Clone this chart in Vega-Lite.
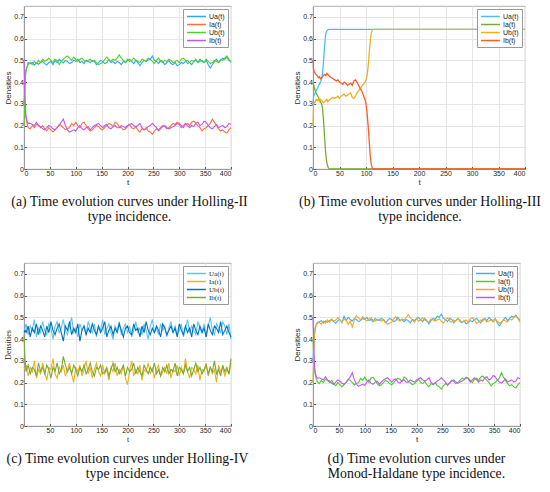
{
  "$schema": "https://vega.github.io/schema/vega-lite/v6.json",
  "padding": {"left": 4, "top": 5, "right": 5, "bottom": 5},
  "datasets": {
    "a": [
      {"t":0,"Ua":0.30,"Ia":0.40,"Ub":0.20,"Ib":0.50},
      {"t":1,"Ua":0.36,"Ia":0.34,"Ub":0.30,"Ib":0.40},
      {"t":2,"Ua":0.41,"Ia":0.29,"Ub":0.38,"Ib":0.32},
      {"t":3,"Ua":0.44,"Ia":0.25,"Ub":0.43,"Ib":0.27},
      {"t":4,"Ua":0.46,"Ia":0.23,"Ub":0.45,"Ib":0.24},
      {"t":6,"Ua":0.47,"Ia":0.21,"Ub":0.47,"Ib":0.22},
      {"t":8,"Ua":0.49,"Ia":0.19,"Ub":0.48,"Ib":0.21},
      {"t":12,"Ua":0.485,"Ia":0.185,"Ub":0.49,"Ib":0.21},
      {"t":16,"Ua":0.49,"Ia":0.20,"Ub":0.48,"Ib":0.205},
      {"t":20,"Ua":0.478,"Ia":0.19,"Ub":0.495,"Ib":0.20},
      {"t":24,"Ua":0.488,"Ia":0.205,"Ub":0.485,"Ib":0.215},
      {"t":28,"Ua":0.482,"Ia":0.20,"Ub":0.50,"Ib":0.20},
      {"t":32,"Ua":0.49,"Ia":0.19,"Ub":0.49,"Ib":0.195},
      {"t":36,"Ua":0.495,"Ia":0.20,"Ub":0.505,"Ib":0.185},
      {"t":40,"Ua":0.485,"Ia":0.185,"Ub":0.495,"Ib":0.18},
      {"t":44,"Ua":0.478,"Ia":0.175,"Ub":0.50,"Ib":0.19},
      {"t":48,"Ua":0.49,"Ia":0.19,"Ub":0.51,"Ib":0.20},
      {"t":52,"Ua":0.495,"Ia":0.18,"Ub":0.50,"Ib":0.195},
      {"t":56,"Ua":0.48,"Ia":0.17,"Ub":0.49,"Ib":0.185},
      {"t":60,"Ua":0.50,"Ia":0.18,"Ub":0.505,"Ib":0.18},
      {"t":64,"Ua":0.49,"Ia":0.19,"Ub":0.50,"Ib":0.19},
      {"t":68,"Ua":0.505,"Ia":0.205,"Ub":0.48,"Ib":0.20},
      {"t":72,"Ua":0.495,"Ia":0.20,"Ub":0.495,"Ib":0.215},
      {"t":76,"Ua":0.488,"Ia":0.19,"Ub":0.505,"Ib":0.23},
      {"t":80,"Ua":0.50,"Ia":0.18,"Ub":0.515,"Ib":0.20},
      {"t":84,"Ua":0.495,"Ia":0.185,"Ub":0.52,"Ib":0.18},
      {"t":88,"Ua":0.485,"Ia":0.19,"Ub":0.51,"Ib":0.17},
      {"t":92,"Ua":0.49,"Ia":0.21,"Ub":0.50,"Ib":0.175},
      {"t":96,"Ua":0.50,"Ia":0.20,"Ub":0.515,"Ib":0.18},
      {"t":100,"Ua":0.495,"Ia":0.215,"Ub":0.505,"Ib":0.175},
      {"t":104,"Ua":0.505,"Ia":0.20,"Ub":0.495,"Ib":0.19},
      {"t":108,"Ua":0.49,"Ia":0.19,"Ub":0.505,"Ib":0.20},
      {"t":112,"Ua":0.495,"Ia":0.21,"Ub":0.51,"Ib":0.185},
      {"t":116,"Ua":0.485,"Ia":0.215,"Ub":0.50,"Ib":0.18},
      {"t":120,"Ua":0.50,"Ia":0.20,"Ub":0.495,"Ib":0.19},
      {"t":124,"Ua":0.495,"Ia":0.185,"Ub":0.50,"Ib":0.195},
      {"t":128,"Ua":0.49,"Ia":0.175,"Ub":0.505,"Ib":0.18},
      {"t":132,"Ua":0.50,"Ia":0.18,"Ub":0.495,"Ib":0.19},
      {"t":136,"Ua":0.495,"Ia":0.19,"Ub":0.50,"Ib":0.20},
      {"t":140,"Ua":0.48,"Ia":0.20,"Ub":0.49,"Ib":0.205},
      {"t":144,"Ua":0.49,"Ia":0.195,"Ub":0.48,"Ib":0.21},
      {"t":148,"Ua":0.50,"Ia":0.185,"Ub":0.485,"Ib":0.20},
      {"t":152,"Ua":0.495,"Ia":0.18,"Ub":0.49,"Ib":0.19},
      {"t":156,"Ua":0.485,"Ia":0.19,"Ub":0.505,"Ib":0.20},
      {"t":160,"Ua":0.49,"Ia":0.20,"Ub":0.515,"Ib":0.205},
      {"t":164,"Ua":0.505,"Ia":0.21,"Ub":0.50,"Ib":0.19},
      {"t":168,"Ua":0.49,"Ia":0.205,"Ub":0.495,"Ib":0.185},
      {"t":172,"Ua":0.495,"Ia":0.195,"Ub":0.505,"Ib":0.195},
      {"t":176,"Ua":0.485,"Ia":0.215,"Ub":0.50,"Ib":0.20},
      {"t":180,"Ua":0.495,"Ia":0.21,"Ub":0.51,"Ib":0.19},
      {"t":184,"Ua":0.49,"Ia":0.195,"Ub":0.525,"Ib":0.19},
      {"t":188,"Ua":0.48,"Ia":0.19,"Ub":0.51,"Ib":0.20},
      {"t":192,"Ua":0.495,"Ia":0.18,"Ub":0.50,"Ib":0.195},
      {"t":196,"Ua":0.49,"Ia":0.185,"Ub":0.49,"Ib":0.19},
      {"t":200,"Ua":0.50,"Ia":0.195,"Ub":0.505,"Ib":0.20},
      {"t":204,"Ua":0.505,"Ia":0.205,"Ub":0.495,"Ib":0.205},
      {"t":208,"Ua":0.495,"Ia":0.19,"Ub":0.50,"Ib":0.21},
      {"t":212,"Ua":0.485,"Ia":0.185,"Ub":0.51,"Ib":0.20},
      {"t":216,"Ua":0.50,"Ia":0.195,"Ub":0.50,"Ib":0.195},
      {"t":220,"Ua":0.49,"Ia":0.18,"Ub":0.495,"Ib":0.20},
      {"t":224,"Ua":0.475,"Ia":0.17,"Ub":0.49,"Ib":0.21},
      {"t":228,"Ua":0.49,"Ia":0.185,"Ub":0.505,"Ib":0.19},
      {"t":232,"Ua":0.50,"Ia":0.18,"Ub":0.50,"Ib":0.18},
      {"t":236,"Ua":0.495,"Ia":0.19,"Ub":0.495,"Ib":0.185},
      {"t":240,"Ua":0.51,"Ia":0.175,"Ub":0.50,"Ib":0.195},
      {"t":244,"Ua":0.505,"Ia":0.17,"Ub":0.505,"Ib":0.20},
      {"t":248,"Ua":0.52,"Ia":0.16,"Ub":0.495,"Ib":0.21},
      {"t":252,"Ua":0.50,"Ia":0.175,"Ub":0.485,"Ib":0.20},
      {"t":256,"Ua":0.495,"Ia":0.185,"Ub":0.50,"Ib":0.19},
      {"t":260,"Ua":0.485,"Ia":0.18,"Ub":0.51,"Ib":0.175},
      {"t":264,"Ua":0.50,"Ia":0.19,"Ub":0.495,"Ib":0.185},
      {"t":268,"Ua":0.495,"Ia":0.20,"Ub":0.49,"Ib":0.195},
      {"t":272,"Ua":0.48,"Ia":0.195,"Ub":0.50,"Ib":0.20},
      {"t":276,"Ua":0.49,"Ia":0.185,"Ub":0.495,"Ib":0.19},
      {"t":280,"Ua":0.50,"Ia":0.19,"Ub":0.505,"Ib":0.185},
      {"t":284,"Ua":0.485,"Ia":0.20,"Ub":0.50,"Ib":0.19},
      {"t":288,"Ua":0.48,"Ia":0.21,"Ub":0.49,"Ib":0.195},
      {"t":292,"Ua":0.49,"Ia":0.205,"Ub":0.495,"Ib":0.20},
      {"t":296,"Ua":0.475,"Ia":0.215,"Ub":0.50,"Ib":0.21},
      {"t":300,"Ua":0.48,"Ia":0.21,"Ub":0.49,"Ib":0.205},
      {"t":304,"Ua":0.49,"Ia":0.20,"Ub":0.505,"Ib":0.19},
      {"t":308,"Ua":0.485,"Ia":0.19,"Ub":0.51,"Ib":0.20},
      {"t":312,"Ua":0.495,"Ia":0.205,"Ub":0.50,"Ib":0.21},
      {"t":316,"Ua":0.50,"Ia":0.21,"Ub":0.485,"Ib":0.20},
      {"t":320,"Ua":0.49,"Ia":0.20,"Ub":0.49,"Ib":0.19},
      {"t":324,"Ua":0.48,"Ia":0.215,"Ub":0.50,"Ib":0.20},
      {"t":328,"Ua":0.495,"Ia":0.22,"Ub":0.495,"Ib":0.195},
      {"t":332,"Ua":0.50,"Ia":0.21,"Ub":0.505,"Ib":0.21},
      {"t":336,"Ua":0.49,"Ia":0.20,"Ub":0.49,"Ib":0.215},
      {"t":340,"Ua":0.505,"Ia":0.19,"Ub":0.495,"Ib":0.20},
      {"t":344,"Ua":0.495,"Ia":0.175,"Ub":0.50,"Ib":0.205},
      {"t":348,"Ua":0.49,"Ia":0.185,"Ub":0.49,"Ib":0.22},
      {"t":352,"Ua":0.50,"Ia":0.19,"Ub":0.505,"Ib":0.215},
      {"t":356,"Ua":0.48,"Ia":0.20,"Ub":0.495,"Ib":0.20},
      {"t":360,"Ua":0.465,"Ia":0.21,"Ub":0.485,"Ib":0.19},
      {"t":364,"Ua":0.48,"Ia":0.23,"Ub":0.49,"Ib":0.185},
      {"t":368,"Ua":0.495,"Ia":0.215,"Ub":0.50,"Ib":0.195},
      {"t":372,"Ua":0.505,"Ia":0.20,"Ub":0.495,"Ib":0.205},
      {"t":376,"Ua":0.49,"Ia":0.185,"Ub":0.49,"Ib":0.19},
      {"t":380,"Ua":0.50,"Ia":0.175,"Ub":0.505,"Ib":0.195},
      {"t":384,"Ua":0.51,"Ia":0.18,"Ub":0.50,"Ib":0.20},
      {"t":388,"Ua":0.505,"Ia":0.17,"Ub":0.51,"Ib":0.19},
      {"t":392,"Ua":0.515,"Ia":0.165,"Ub":0.52,"Ib":0.195},
      {"t":396,"Ua":0.50,"Ia":0.18,"Ub":0.505,"Ib":0.21},
      {"t":400,"Ua":0.495,"Ia":0.19,"Ub":0.49,"Ib":0.205}
    ],
    "b": [
      {"t":0,"Ua":0.30,"Ia":0.40,"Ub":0.20,"Ib":0.50},
      {"t":1,"Ua":0.33,"Ia":0.39,"Ub":0.29,"Ib":0.46},
      {"t":2,"Ua":0.34,"Ia":0.38,"Ub":0.30,"Ib":0.45},
      {"t":4,"Ua":0.35,"Ia":0.36,"Ub":0.31,"Ib":0.44},
      {"t":6,"Ua":0.36,"Ia":0.35,"Ub":0.32,"Ib":0.435},
      {"t":8,"Ua":0.37,"Ia":0.34,"Ub":0.315,"Ib":0.43},
      {"t":10,"Ua":0.38,"Ia":0.33,"Ub":0.32,"Ib":0.42},
      {"t":12,"Ua":0.39,"Ia":0.32,"Ub":0.31,"Ib":0.425},
      {"t":14,"Ua":0.40,"Ia":0.31,"Ub":0.32,"Ib":0.415},
      {"t":16,"Ua":0.41,"Ia":0.30,"Ub":0.315,"Ib":0.42},
      {"t":18,"Ua":0.44,"Ia":0.28,"Ub":0.31,"Ib":0.425},
      {"t":20,"Ua":0.50,"Ia":0.22,"Ub":0.305,"Ib":0.43},
      {"t":22,"Ua":0.57,"Ia":0.14,"Ub":0.31,"Ib":0.435},
      {"t":24,"Ua":0.62,"Ia":0.07,"Ub":0.315,"Ib":0.43},
      {"t":26,"Ua":0.635,"Ia":0.03,"Ub":0.32,"Ib":0.44},
      {"t":28,"Ua":0.64,"Ia":0.01,"Ub":0.31,"Ib":0.435},
      {"t":30,"Ua":0.642,"Ia":0.002,"Ub":0.315,"Ib":0.43},
      {"t":32,"Ua":0.642,"Ia":0,"Ub":0.32,"Ib":0.425},
      {"t":35,"Ua":0.642,"Ia":0,"Ub":0.325,"Ib":0.42},
      {"t":38,"Ua":0.642,"Ia":0,"Ub":0.33,"Ib":0.415},
      {"t":41,"Ua":0.642,"Ia":0,"Ub":0.325,"Ib":0.41},
      {"t":44,"Ua":0.642,"Ia":0,"Ub":0.33,"Ib":0.405},
      {"t":47,"Ua":0.642,"Ia":0,"Ub":0.335,"Ib":0.41},
      {"t":50,"Ua":0.642,"Ia":0,"Ub":0.325,"Ib":0.40},
      {"t":53,"Ua":0.642,"Ia":0,"Ub":0.335,"Ib":0.395},
      {"t":56,"Ua":0.642,"Ia":0,"Ub":0.34,"Ib":0.39},
      {"t":59,"Ua":0.642,"Ia":0,"Ub":0.345,"Ib":0.40},
      {"t":62,"Ua":0.642,"Ia":0,"Ub":0.335,"Ib":0.395},
      {"t":65,"Ua":0.642,"Ia":0,"Ub":0.34,"Ib":0.385},
      {"t":68,"Ua":0.642,"Ia":0,"Ub":0.345,"Ib":0.39},
      {"t":71,"Ua":0.642,"Ia":0,"Ub":0.35,"Ib":0.395},
      {"t":74,"Ua":0.642,"Ia":0,"Ub":0.33,"Ib":0.385},
      {"t":77,"Ua":0.642,"Ia":0,"Ub":0.325,"Ib":0.405},
      {"t":80,"Ua":0.642,"Ia":0,"Ub":0.335,"Ib":0.41},
      {"t":83,"Ua":0.642,"Ia":0,"Ub":0.35,"Ib":0.40},
      {"t":86,"Ua":0.642,"Ia":0,"Ub":0.36,"Ib":0.385},
      {"t":89,"Ua":0.642,"Ia":0,"Ub":0.37,"Ib":0.37},
      {"t":92,"Ua":0.642,"Ia":0,"Ub":0.38,"Ib":0.36},
      {"t":95,"Ua":0.642,"Ia":0,"Ub":0.39,"Ib":0.34},
      {"t":98,"Ua":0.642,"Ia":0,"Ub":0.40,"Ib":0.32},
      {"t":100,"Ua":0.642,"Ia":0,"Ub":0.41,"Ib":0.30},
      {"t":102,"Ua":0.642,"Ia":0,"Ub":0.43,"Ib":0.26},
      {"t":104,"Ua":0.642,"Ia":0,"Ub":0.47,"Ib":0.20},
      {"t":106,"Ua":0.642,"Ia":0,"Ub":0.53,"Ib":0.13},
      {"t":108,"Ua":0.642,"Ia":0,"Ub":0.59,"Ib":0.06},
      {"t":110,"Ua":0.642,"Ia":0,"Ub":0.625,"Ib":0.02},
      {"t":112,"Ua":0.642,"Ia":0,"Ub":0.64,"Ib":0.003},
      {"t":114,"Ua":0.642,"Ia":0,"Ub":0.642,"Ib":0},
      {"t":200,"Ua":0.642,"Ia":0,"Ub":0.642,"Ib":0},
      {"t":300,"Ua":0.642,"Ia":0,"Ub":0.642,"Ib":0},
      {"t":400,"Ua":0.642,"Ia":0,"Ub":0.642,"Ib":0}
    ],
    "c": [
      {"t":0,"Ua":0.44,"Ia":0.27,"Ub":0.43,"Ib":0.42},
      {"t":2,"Ua":0.45,"Ia":0.26,"Ub":0.44,"Ib":0.31},
      {"t":4,"Ua":0.47,"Ia":0.28,"Ub":0.43,"Ib":0.25},
      {"t":8,"Ua":0.42,"Ia":0.23,"Ub":0.46,"Ib":0.28},
      {"t":12,"Ua":0.46,"Ia":0.27,"Ub":0.41,"Ib":0.24},
      {"t":16,"Ua":0.44,"Ia":0.25,"Ub":0.45,"Ib":0.27},
      {"t":20,"Ua":0.49,"Ia":0.30,"Ub":0.43,"Ib":0.26},
      {"t":24,"Ua":0.41,"Ia":0.22,"Ub":0.47,"Ib":0.23},
      {"t":28,"Ua":0.45,"Ia":0.26,"Ub":0.42,"Ib":0.29},
      {"t":32,"Ua":0.43,"Ia":0.24,"Ub":0.46,"Ib":0.25},
      {"t":36,"Ua":0.48,"Ia":0.29,"Ub":0.44,"Ib":0.27},
      {"t":40,"Ua":0.44,"Ia":0.25,"Ub":0.41,"Ib":0.24},
      {"t":44,"Ua":0.42,"Ia":0.21,"Ub":0.46,"Ib":0.28},
      {"t":48,"Ua":0.47,"Ia":0.27,"Ub":0.43,"Ib":0.26},
      {"t":52,"Ua":0.45,"Ia":0.26,"Ub":0.48,"Ib":0.22},
      {"t":56,"Ua":0.40,"Ia":0.31,"Ub":0.44,"Ib":0.27},
      {"t":60,"Ua":0.46,"Ia":0.24,"Ub":0.42,"Ib":0.25},
      {"t":64,"Ua":0.48,"Ia":0.22,"Ub":0.45,"Ib":0.29},
      {"t":68,"Ua":0.43,"Ia":0.27,"Ub":0.47,"Ib":0.24},
      {"t":72,"Ua":0.45,"Ia":0.25,"Ub":0.43,"Ib":0.26},
      {"t":76,"Ua":0.49,"Ia":0.28,"Ub":0.39,"Ib":0.32},
      {"t":80,"Ua":0.44,"Ia":0.23,"Ub":0.46,"Ib":0.28},
      {"t":84,"Ua":0.42,"Ia":0.26,"Ub":0.44,"Ib":0.25},
      {"t":88,"Ua":0.46,"Ia":0.29,"Ub":0.48,"Ib":0.27},
      {"t":92,"Ua":0.50,"Ia":0.24,"Ub":0.42,"Ib":0.24},
      {"t":96,"Ua":0.43,"Ia":0.20,"Ub":0.45,"Ib":0.28},
      {"t":100,"Ua":0.45,"Ia":0.27,"Ub":0.43,"Ib":0.26},
      {"t":104,"Ua":0.41,"Ia":0.25,"Ub":0.47,"Ib":0.23},
      {"t":108,"Ua":0.47,"Ia":0.28,"Ub":0.39,"Ib":0.27},
      {"t":112,"Ua":0.44,"Ia":0.23,"Ub":0.44,"Ib":0.25},
      {"t":116,"Ua":0.46,"Ia":0.26,"Ub":0.46,"Ib":0.28},
      {"t":120,"Ua":0.42,"Ia":0.30,"Ub":0.42,"Ib":0.24},
      {"t":124,"Ua":0.48,"Ia":0.24,"Ub":0.45,"Ib":0.26},
      {"t":128,"Ua":0.45,"Ia":0.27,"Ub":0.43,"Ib":0.29},
      {"t":132,"Ua":0.43,"Ia":0.22,"Ub":0.47,"Ib":0.25},
      {"t":136,"Ua":0.47,"Ia":0.26,"Ub":0.44,"Ib":0.23},
      {"t":140,"Ua":0.41,"Ia":0.29,"Ub":0.42,"Ib":0.27},
      {"t":144,"Ua":0.46,"Ia":0.25,"Ub":0.46,"Ib":0.26},
      {"t":148,"Ua":0.44,"Ia":0.23,"Ub":0.43,"Ib":0.28},
      {"t":152,"Ua":0.49,"Ia":0.28,"Ub":0.45,"Ib":0.24},
      {"t":156,"Ua":0.42,"Ia":0.24,"Ub":0.48,"Ib":0.25},
      {"t":160,"Ua":0.45,"Ia":0.26,"Ub":0.41,"Ib":0.27},
      {"t":164,"Ua":0.47,"Ia":0.21,"Ub":0.44,"Ib":0.23},
      {"t":168,"Ua":0.43,"Ia":0.27,"Ub":0.46,"Ib":0.26},
      {"t":172,"Ua":0.40,"Ia":0.25,"Ub":0.42,"Ib":0.29},
      {"t":176,"Ua":0.46,"Ia":0.29,"Ub":0.45,"Ib":0.25},
      {"t":180,"Ua":0.44,"Ia":0.23,"Ub":0.43,"Ib":0.27},
      {"t":184,"Ua":0.48,"Ia":0.26,"Ub":0.47,"Ib":0.24},
      {"t":188,"Ua":0.42,"Ia":0.24,"Ub":0.44,"Ib":0.26},
      {"t":192,"Ua":0.45,"Ia":0.28,"Ub":0.41,"Ib":0.28},
      {"t":196,"Ua":0.47,"Ia":0.22,"Ub":0.45,"Ib":0.23},
      {"t":200,"Ua":0.43,"Ia":0.19,"Ub":0.46,"Ib":0.27},
      {"t":204,"Ua":0.46,"Ia":0.25,"Ub":0.43,"Ib":0.25},
      {"t":208,"Ua":0.41,"Ia":0.30,"Ub":0.42,"Ib":0.26},
      {"t":212,"Ua":0.44,"Ia":0.23,"Ub":0.47,"Ib":0.29},
      {"t":216,"Ua":0.48,"Ia":0.26,"Ub":0.44,"Ib":0.24},
      {"t":220,"Ua":0.43,"Ia":0.24,"Ub":0.45,"Ib":0.27},
      {"t":224,"Ua":0.45,"Ia":0.28,"Ub":0.41,"Ib":0.25},
      {"t":228,"Ua":0.42,"Ia":0.21,"Ub":0.46,"Ib":0.23},
      {"t":232,"Ua":0.47,"Ia":0.26,"Ub":0.43,"Ib":0.28},
      {"t":236,"Ua":0.44,"Ia":0.25,"Ub":0.48,"Ib":0.26},
      {"t":240,"Ua":0.40,"Ia":0.29,"Ub":0.44,"Ib":0.24},
      {"t":244,"Ua":0.46,"Ia":0.24,"Ub":0.42,"Ib":0.27},
      {"t":248,"Ua":0.49,"Ia":0.27,"Ub":0.45,"Ib":0.25},
      {"t":252,"Ua":0.43,"Ia":0.22,"Ub":0.43,"Ib":0.29},
      {"t":256,"Ua":0.45,"Ia":0.26,"Ub":0.46,"Ib":0.24},
      {"t":260,"Ua":0.42,"Ia":0.28,"Ub":0.44,"Ib":0.26},
      {"t":264,"Ua":0.47,"Ia":0.23,"Ub":0.41,"Ib":0.23},
      {"t":268,"Ua":0.44,"Ia":0.25,"Ub":0.47,"Ib":0.27},
      {"t":272,"Ua":0.46,"Ia":0.27,"Ub":0.45,"Ib":0.25},
      {"t":276,"Ua":0.41,"Ia":0.24,"Ub":0.42,"Ib":0.28},
      {"t":280,"Ua":0.45,"Ia":0.29,"Ub":0.44,"Ib":0.24},
      {"t":284,"Ua":0.48,"Ia":0.22,"Ub":0.46,"Ib":0.26},
      {"t":288,"Ua":0.43,"Ia":0.26,"Ub":0.43,"Ib":0.25},
      {"t":292,"Ua":0.46,"Ia":0.25,"Ub":0.45,"Ib":0.29},
      {"t":296,"Ua":0.42,"Ia":0.28,"Ub":0.41,"Ib":0.23},
      {"t":300,"Ua":0.44,"Ia":0.23,"Ub":0.47,"Ib":0.27},
      {"t":304,"Ua":0.47,"Ia":0.27,"Ub":0.44,"Ib":0.26},
      {"t":308,"Ua":0.41,"Ia":0.24,"Ub":0.42,"Ib":0.24},
      {"t":312,"Ua":0.45,"Ia":0.31,"Ub":0.46,"Ib":0.28},
      {"t":316,"Ua":0.49,"Ia":0.25,"Ub":0.43,"Ib":0.25},
      {"t":320,"Ua":0.43,"Ia":0.22,"Ub":0.45,"Ib":0.27},
      {"t":324,"Ua":0.46,"Ia":0.27,"Ub":0.41,"Ib":0.23},
      {"t":328,"Ua":0.44,"Ia":0.26,"Ub":0.47,"Ib":0.26},
      {"t":332,"Ua":0.42,"Ia":0.24,"Ub":0.44,"Ib":0.29},
      {"t":336,"Ua":0.48,"Ia":0.28,"Ub":0.42,"Ib":0.25},
      {"t":340,"Ua":0.45,"Ia":0.21,"Ub":0.46,"Ib":0.27},
      {"t":344,"Ua":0.43,"Ia":0.26,"Ub":0.43,"Ib":0.24},
      {"t":348,"Ua":0.47,"Ia":0.25,"Ub":0.45,"Ib":0.26},
      {"t":352,"Ua":0.41,"Ia":0.29,"Ub":0.41,"Ib":0.28},
      {"t":356,"Ua":0.46,"Ia":0.23,"Ub":0.47,"Ib":0.24},
      {"t":360,"Ua":0.50,"Ia":0.27,"Ub":0.44,"Ib":0.27},
      {"t":364,"Ua":0.44,"Ia":0.24,"Ub":0.42,"Ib":0.25},
      {"t":368,"Ua":0.42,"Ia":0.26,"Ub":0.46,"Ib":0.30},
      {"t":372,"Ua":0.47,"Ia":0.20,"Ub":0.45,"Ib":0.24},
      {"t":376,"Ua":0.45,"Ia":0.28,"Ub":0.43,"Ib":0.26},
      {"t":380,"Ua":0.43,"Ia":0.25,"Ub":0.48,"Ib":0.23},
      {"t":384,"Ua":0.48,"Ia":0.27,"Ub":0.42,"Ib":0.28},
      {"t":388,"Ua":0.46,"Ia":0.23,"Ub":0.44,"Ib":0.25},
      {"t":392,"Ua":0.42,"Ia":0.26,"Ub":0.46,"Ib":0.27},
      {"t":396,"Ua":0.47,"Ia":0.24,"Ub":0.43,"Ib":0.24},
      {"t":400,"Ua":0.40,"Ia":0.29,"Ub":0.41,"Ib":0.31}
    ],
    "d": [
      {"t":0,"Ua":0.30,"Ia":0.40,"Ub":0.20,"Ib":0.50},
      {"t":1,"Ua":0.35,"Ia":0.34,"Ub":0.30,"Ib":0.41},
      {"t":2,"Ua":0.40,"Ia":0.29,"Ub":0.38,"Ib":0.33},
      {"t":3,"Ua":0.43,"Ia":0.26,"Ub":0.42,"Ib":0.28},
      {"t":4,"Ua":0.45,"Ia":0.24,"Ub":0.44,"Ib":0.25},
      {"t":6,"Ua":0.465,"Ia":0.22,"Ub":0.46,"Ib":0.23},
      {"t":8,"Ua":0.475,"Ia":0.205,"Ub":0.47,"Ib":0.22},
      {"t":12,"Ua":0.48,"Ia":0.195,"Ub":0.478,"Ib":0.222},
      {"t":16,"Ua":0.485,"Ia":0.21,"Ub":0.468,"Ib":0.217},
      {"t":20,"Ua":0.473,"Ia":0.20,"Ub":0.483,"Ib":0.212},
      {"t":24,"Ua":0.483,"Ia":0.215,"Ub":0.473,"Ib":0.227},
      {"t":28,"Ua":0.477,"Ia":0.21,"Ub":0.488,"Ib":0.212},
      {"t":32,"Ua":0.485,"Ia":0.20,"Ub":0.478,"Ib":0.207},
      {"t":36,"Ua":0.49,"Ia":0.21,"Ub":0.493,"Ib":0.197},
      {"t":40,"Ua":0.48,"Ia":0.195,"Ub":0.483,"Ib":0.192},
      {"t":44,"Ua":0.473,"Ia":0.185,"Ub":0.488,"Ib":0.202},
      {"t":48,"Ua":0.485,"Ia":0.20,"Ub":0.498,"Ib":0.212},
      {"t":52,"Ua":0.49,"Ia":0.19,"Ub":0.488,"Ib":0.207},
      {"t":56,"Ua":0.475,"Ia":0.18,"Ub":0.478,"Ib":0.197},
      {"t":60,"Ua":0.505,"Ia":0.19,"Ub":0.493,"Ib":0.192},
      {"t":64,"Ua":0.485,"Ia":0.20,"Ub":0.488,"Ib":0.202},
      {"t":68,"Ua":0.50,"Ia":0.215,"Ub":0.468,"Ib":0.212},
      {"t":72,"Ua":0.49,"Ia":0.21,"Ub":0.483,"Ib":0.227},
      {"t":76,"Ua":0.483,"Ia":0.20,"Ub":0.455,"Ib":0.245},
      {"t":80,"Ua":0.495,"Ia":0.19,"Ub":0.49,"Ib":0.212},
      {"t":84,"Ua":0.49,"Ia":0.195,"Ub":0.508,"Ib":0.192},
      {"t":88,"Ua":0.48,"Ia":0.20,"Ub":0.498,"Ib":0.182},
      {"t":92,"Ua":0.485,"Ia":0.22,"Ub":0.488,"Ib":0.187},
      {"t":96,"Ua":0.495,"Ia":0.21,"Ub":0.503,"Ib":0.192},
      {"t":100,"Ua":0.49,"Ia":0.225,"Ub":0.493,"Ib":0.187},
      {"t":104,"Ua":0.50,"Ia":0.21,"Ub":0.483,"Ib":0.202},
      {"t":108,"Ua":0.485,"Ia":0.20,"Ub":0.493,"Ib":0.212},
      {"t":112,"Ua":0.49,"Ia":0.22,"Ub":0.498,"Ib":0.197},
      {"t":116,"Ua":0.48,"Ia":0.225,"Ub":0.488,"Ib":0.192},
      {"t":120,"Ua":0.495,"Ia":0.21,"Ub":0.483,"Ib":0.202},
      {"t":124,"Ua":0.49,"Ia":0.195,"Ub":0.488,"Ib":0.207},
      {"t":128,"Ua":0.485,"Ia":0.185,"Ub":0.493,"Ib":0.192},
      {"t":132,"Ua":0.495,"Ia":0.19,"Ub":0.483,"Ib":0.202},
      {"t":136,"Ua":0.49,"Ia":0.20,"Ub":0.488,"Ib":0.212},
      {"t":140,"Ua":0.475,"Ia":0.21,"Ub":0.478,"Ib":0.217},
      {"t":144,"Ua":0.485,"Ia":0.205,"Ub":0.468,"Ib":0.222},
      {"t":148,"Ua":0.495,"Ia":0.195,"Ub":0.473,"Ib":0.212},
      {"t":152,"Ua":0.49,"Ia":0.19,"Ub":0.478,"Ib":0.202},
      {"t":156,"Ua":0.48,"Ia":0.20,"Ub":0.493,"Ib":0.212},
      {"t":160,"Ua":0.485,"Ia":0.21,"Ub":0.503,"Ib":0.217},
      {"t":164,"Ua":0.50,"Ia":0.22,"Ub":0.488,"Ib":0.202},
      {"t":168,"Ua":0.485,"Ia":0.215,"Ub":0.483,"Ib":0.197},
      {"t":172,"Ua":0.49,"Ia":0.205,"Ub":0.493,"Ib":0.207},
      {"t":176,"Ua":0.48,"Ia":0.225,"Ub":0.488,"Ib":0.212},
      {"t":180,"Ua":0.49,"Ia":0.22,"Ub":0.498,"Ib":0.202},
      {"t":184,"Ua":0.485,"Ia":0.205,"Ub":0.513,"Ib":0.202},
      {"t":188,"Ua":0.475,"Ia":0.20,"Ub":0.498,"Ib":0.212},
      {"t":192,"Ua":0.49,"Ia":0.19,"Ub":0.488,"Ib":0.207},
      {"t":196,"Ua":0.485,"Ia":0.195,"Ub":0.478,"Ib":0.202},
      {"t":200,"Ua":0.495,"Ia":0.205,"Ub":0.493,"Ib":0.212},
      {"t":204,"Ua":0.50,"Ia":0.215,"Ub":0.483,"Ib":0.217},
      {"t":208,"Ua":0.49,"Ia":0.20,"Ub":0.488,"Ib":0.222},
      {"t":212,"Ua":0.48,"Ia":0.195,"Ub":0.498,"Ib":0.212},
      {"t":216,"Ua":0.495,"Ia":0.205,"Ub":0.488,"Ib":0.207},
      {"t":220,"Ua":0.485,"Ia":0.19,"Ub":0.483,"Ib":0.212},
      {"t":224,"Ua":0.47,"Ia":0.18,"Ub":0.478,"Ib":0.222},
      {"t":228,"Ua":0.485,"Ia":0.195,"Ub":0.493,"Ib":0.202},
      {"t":232,"Ua":0.495,"Ia":0.19,"Ub":0.488,"Ib":0.192},
      {"t":236,"Ua":0.49,"Ia":0.20,"Ub":0.483,"Ib":0.197},
      {"t":240,"Ua":0.505,"Ia":0.185,"Ub":0.488,"Ib":0.207},
      {"t":244,"Ua":0.50,"Ia":0.18,"Ub":0.493,"Ib":0.212},
      {"t":248,"Ua":0.515,"Ia":0.17,"Ub":0.483,"Ib":0.222},
      {"t":252,"Ua":0.495,"Ia":0.185,"Ub":0.473,"Ib":0.212},
      {"t":256,"Ua":0.49,"Ia":0.195,"Ub":0.488,"Ib":0.202},
      {"t":260,"Ua":0.48,"Ia":0.19,"Ub":0.498,"Ib":0.187},
      {"t":264,"Ua":0.495,"Ia":0.20,"Ub":0.483,"Ib":0.197},
      {"t":268,"Ua":0.49,"Ia":0.21,"Ub":0.478,"Ib":0.207},
      {"t":272,"Ua":0.475,"Ia":0.205,"Ub":0.488,"Ib":0.212},
      {"t":276,"Ua":0.485,"Ia":0.195,"Ub":0.483,"Ib":0.202},
      {"t":280,"Ua":0.495,"Ia":0.20,"Ub":0.493,"Ib":0.197},
      {"t":284,"Ua":0.48,"Ia":0.21,"Ub":0.488,"Ib":0.202},
      {"t":288,"Ua":0.475,"Ia":0.22,"Ub":0.478,"Ib":0.207},
      {"t":292,"Ua":0.485,"Ia":0.215,"Ub":0.483,"Ib":0.212},
      {"t":296,"Ua":0.47,"Ia":0.225,"Ub":0.488,"Ib":0.222},
      {"t":300,"Ua":0.475,"Ia":0.22,"Ub":0.478,"Ib":0.217},
      {"t":304,"Ua":0.485,"Ia":0.21,"Ub":0.493,"Ib":0.202},
      {"t":308,"Ua":0.48,"Ia":0.20,"Ub":0.498,"Ib":0.212},
      {"t":312,"Ua":0.49,"Ia":0.215,"Ub":0.488,"Ib":0.222},
      {"t":316,"Ua":0.495,"Ia":0.22,"Ub":0.473,"Ib":0.212},
      {"t":320,"Ua":0.485,"Ia":0.21,"Ub":0.478,"Ib":0.202},
      {"t":324,"Ua":0.475,"Ia":0.225,"Ub":0.488,"Ib":0.212},
      {"t":328,"Ua":0.49,"Ia":0.23,"Ub":0.483,"Ib":0.207},
      {"t":332,"Ua":0.495,"Ia":0.22,"Ub":0.493,"Ib":0.222},
      {"t":336,"Ua":0.485,"Ia":0.21,"Ub":0.478,"Ib":0.227},
      {"t":340,"Ua":0.50,"Ia":0.20,"Ub":0.483,"Ib":0.212},
      {"t":344,"Ua":0.49,"Ia":0.185,"Ub":0.488,"Ib":0.217},
      {"t":348,"Ua":0.485,"Ia":0.195,"Ub":0.478,"Ib":0.232},
      {"t":352,"Ua":0.495,"Ia":0.20,"Ub":0.493,"Ib":0.227},
      {"t":356,"Ua":0.475,"Ia":0.21,"Ub":0.483,"Ib":0.212},
      {"t":360,"Ua":0.46,"Ia":0.22,"Ub":0.473,"Ib":0.202},
      {"t":364,"Ua":0.475,"Ia":0.245,"Ub":0.478,"Ib":0.197},
      {"t":368,"Ua":0.49,"Ia":0.225,"Ub":0.488,"Ib":0.207},
      {"t":372,"Ua":0.50,"Ia":0.21,"Ub":0.483,"Ib":0.217},
      {"t":376,"Ua":0.485,"Ia":0.195,"Ub":0.478,"Ib":0.202},
      {"t":380,"Ua":0.495,"Ia":0.185,"Ub":0.493,"Ib":0.207},
      {"t":384,"Ua":0.505,"Ia":0.19,"Ub":0.488,"Ib":0.212},
      {"t":388,"Ua":0.50,"Ia":0.18,"Ub":0.498,"Ib":0.202},
      {"t":392,"Ua":0.51,"Ia":0.175,"Ub":0.508,"Ib":0.207},
      {"t":396,"Ua":0.495,"Ia":0.19,"Ub":0.493,"Ib":0.222},
      {"t":400,"Ua":0.49,"Ia":0.20,"Ub":0.478,"Ib":0.217}
    ]
  },
  "spacing": 38,
  "resolve": {"scale": {"color": "independent"}, "legend": {"color": "independent"}},
  "vconcat": [
    {
      "spacing": 82,
      "bounds": "flush",
      "resolve": {"scale": {"color": "independent"}, "legend": {"color": "independent"}},
      "hconcat": [
        {
          "width": 207,
          "height": 163,
          "data": {"name": "a"},
          "transform": [{"fold": ["Ua", "Ia", "Ub", "Ib"], "as": ["series", "value"]}],
          "mark": {"type": "line", "strokeWidth": 1.1},
          "title": {"text": ["(a) Time evolution curves under Holling-II", "type incidence."], "dx": 2},
          "encoding": {
            "x": {"field": "t", "type": "quantitative", "scale": {"domain": [0, 400], "nice": false}, "axis": {"values": [0, 50, 100, 150, 200, 250, 300, 350, 400], "title": "t"}},
            "y": {"field": "value", "type": "quantitative", "scale": {"domain": [0, 0.75], "nice": false}, "axis": {"values": [0, 0.1, 0.2, 0.3, 0.4, 0.5, 0.6, 0.7], "format": "~g", "title": "Densities"}},
            "color": {"field": "series", "type": "nominal", "scale": {"domain": ["Ua", "Ia", "Ub", "Ib"], "range": ["#2ea6f2", "#ff6e3c", "#52d02a", "#bf58f2"]}, "legend": {"title": null, "labelExpr": "datum.label + '(t)'"}}
          }
        },
        {
          "width": 212,
          "height": 163,
          "data": {"name": "b"},
          "transform": [{"fold": ["Ua", "Ia", "Ub", "Ib"], "as": ["series", "value"]}],
          "mark": {"type": "line", "strokeWidth": 1.3},
          "title": {"text": ["(b) Time evolution curves under Holling-III", "type incidence."], "dx": 1},
          "encoding": {
            "x": {"field": "t", "type": "quantitative", "scale": {"domain": [0, 400], "nice": false}, "axis": {"values": [0, 50, 100, 150, 200, 250, 300, 350, 400], "title": "t"}},
            "y": {"field": "value", "type": "quantitative", "scale": {"domain": [0, 0.75], "nice": false}, "axis": {"values": [0, 0.1, 0.2, 0.3, 0.4, 0.5, 0.6, 0.7], "format": "~g", "title": "Densities"}},
            "color": {"field": "series", "type": "nominal", "scale": {"domain": ["Ua", "Ia", "Ub", "Ib"], "range": ["#4dbeee", "#77ac30", "#edb120", "#ff5c26"]}, "legend": {"title": null, "labelExpr": "datum.label + '(t)'"}}
          }
        }
      ]
    },
    {
      "spacing": 82,
      "bounds": "flush",
      "resolve": {"scale": {"color": "independent"}, "legend": {"color": "independent"}},
      "hconcat": [
        {
          "width": 207,
          "height": 163,
          "data": {"name": "c"},
          "transform": [{"fold": ["Ua", "Ia", "Ub", "Ib"], "as": ["series", "value"]}],
          "mark": {"type": "line", "strokeWidth": 1.1},
          "title": {"text": ["(c) Time evolution curves under Holling-IV", "type incidence."]},
          "encoding": {
            "x": {"field": "t", "type": "quantitative", "scale": {"domain": [0, 400], "nice": false}, "axis": {"values": [50, 100, 150, 200, 250, 300, 350, 400], "title": "t", "titleFont": "Liberation Serif"}},
            "y": {"field": "value", "type": "quantitative", "scale": {"domain": [0, 0.75], "nice": false}, "axis": {"values": [0, 0.1, 0.2, 0.3, 0.4, 0.5, 0.6, 0.7], "format": "~g", "title": "Densities", "titleFont": "Liberation Serif"}},
            "color": {"field": "series", "type": "nominal", "scale": {"domain": ["Ua", "Ia", "Ub", "Ib"], "range": ["#5cc4f0", "#edb120", "#0072bd", "#77ac30"]}, "legend": {"title": null, "labelFont": "Liberation Serif", "labelExpr": "datum.label + '(t)'"}}
          }
        },
        {
          "width": 207,
          "height": 163,
          "data": {"name": "d"},
          "transform": [{"fold": ["Ua", "Ia", "Ub", "Ib"], "as": ["series", "value"]}],
          "mark": {"type": "line", "strokeWidth": 1.1},
          "title": {"text": ["(d) Time evolution curves under", "Monod-Haldane type incidence."]},
          "encoding": {
            "x": {"field": "t", "type": "quantitative", "scale": {"domain": [0, 400], "nice": false}, "axis": {"values": [0, 50, 100, 150, 200, 250, 300, 350, 400], "title": "t"}},
            "y": {"field": "value", "type": "quantitative", "scale": {"domain": [0, 0.75], "nice": false}, "axis": {"values": [0, 0.1, 0.2, 0.3, 0.4, 0.5, 0.6, 0.7], "format": "~g", "title": "Densities"}},
            "color": {"field": "series", "type": "nominal", "scale": {"domain": ["Ua", "Ia", "Ub", "Ib"], "range": ["#38b2f2", "#4ccf2a", "#f0a828", "#c058f2"]}, "legend": {"title": null, "labelExpr": "datum.label + '(t)'"}}
          }
        }
      ]
    }
  ],
  "config": {
    "font": "Liberation Sans",
    "background": "white",
    "view": {"stroke": "#9a9a9a", "strokeWidth": 0.8},
    "axis": {
      "labelFontSize": 7,
      "labelColor": "#262626",
      "titleFontSize": 8,
      "titleFontWeight": "normal",
      "titleColor": "#262626",
      "gridColor": "#e6e6e6",
      "domainColor": "#9a9a9a",
      "ticks": true,
      "tickSize": -2.5,
      "tickColor": "#555555",
      "labelPadding": 3
    },
    "axisY": {"titlePadding": 1},
    "axisX": {"titlePadding": 2},
    "legend": {
      "orient": "top-right",
      "offset": 3,
      "padding": 3,
      "strokeColor": "#999999",
      "fillColor": "white",
      "symbolType": "M-1,0L4.4,0",
      "symbolSize": 49,
      "symbolStrokeWidth": 1.5,
      "labelOffset": 14,
      "labelFontSize": 7,
      "labelColor": "#262626",
      "rowPadding": 0
    },
    "title": {
      "font": "Liberation Serif",
      "fontSize": 13.8,
      "fontWeight": "normal",
      "orient": "bottom",
      "anchor": "middle",
      "lineHeight": 15,
      "offset": 8,
      "color": "#111111"
    }
  }
}
